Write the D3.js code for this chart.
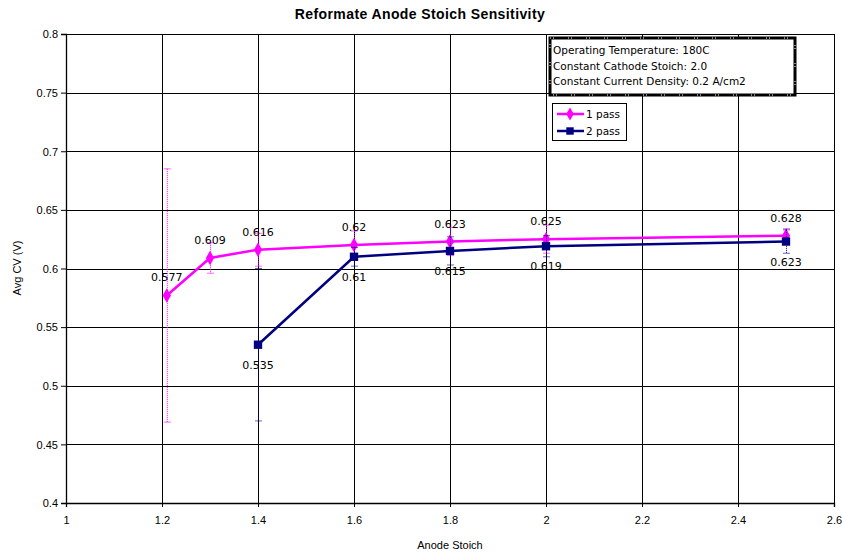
<!DOCTYPE html>
<html>
<head>
<meta charset="utf-8">
<script src="https://cdn.jsdelivr.net/npm/d3@7"></script>
<style>
  body { margin: 0; background: #fff; }
  text { font-family: "Liberation Sans", Arial, sans-serif; }
</style>
</head>
<body>
<div id="chart"></div>
<script>
// data
var stoich1 = [1.21, 1.3, 1.4, 1.6, 1.8, 2.0, 2.5];
var cv1 = [0.577, 0.609, 0.616, 0.62, 0.623, 0.625, 0.628];
var err1 = [0.108, 0.013, 0.014, 0.012, 0.012, 0.012, 0.006];

var stoich2 = [1.4, 1.6, 1.8, 2.0, 2.5];
var cv2 = [0.535, 0.61, 0.615, 0.619, 0.623];
var err2 = [0.065, 0.008, 0.012, 0.009, 0.010];

var seriesNames = ["1 pass", "2 pass"];
var xTicks = [1, 1.2, 1.4, 1.6, 1.8, 2, 2.2, 2.4, 2.6];
var yTicks = [0.4, 0.45, 0.5, 0.55, 0.6, 0.65, 0.7, 0.75, 0.8];
var noteLines = ["Operating Temperature: 180C", "Constant Cathode Stoich: 2.0", "Constant Current Density: 0.2 A/cm2"];

var svgWidth = 842;
var svgHeight = 553;
var chartMargin = { top: 34, right: 8, bottom: 50, left: 66 };
var chartWidth = svgWidth - chartMargin.left - chartMargin.right;
var chartHeight = svgHeight - chartMargin.top - chartMargin.bottom;

var pink = "#ff00ff";
var navy = "#000080";
var wideFont = "'DejaVu Sans', Verdana, sans-serif";

var svg = d3.select("#chart")
            .append("svg")
            .attr("width", svgWidth)
            .attr("height", svgHeight);

var chartGroup = svg.append("g")
                    .attr("transform", `translate(${chartMargin.left}, ${chartMargin.top})`);

var xScale = d3.scaleLinear().domain([1, 2.6]).range([0, chartWidth]);
var yScale = d3.scaleLinear().domain([0.4, 0.8]).range([chartHeight, 0]);

// grid
chartGroup.append("g")
          .selectAll("line")
          .data(yTicks)
          .enter().append("line")
          .attr("x1", 0).attr("x2", chartWidth)
          .attr("y1", d => Math.round(yScale(d)) + 0.5)
          .attr("y2", d => Math.round(yScale(d)) + 0.5)
          .attr("stroke", "#000").attr("stroke-width", 1);
chartGroup.append("g")
          .selectAll("line")
          .data(xTicks)
          .enter().append("line")
          .attr("y1", 0).attr("y2", chartHeight)
          .attr("x1", d => Math.round(xScale(d)) + 0.5)
          .attr("x2", d => Math.round(xScale(d)) + 0.5)
          .attr("stroke", "#000").attr("stroke-width", 1);

// axes
var yAxis = d3.axisLeft(yScale).tickValues(yTicks).tickSize(5).tickFormat(d3.format(""));
var xAxis = d3.axisBottom(xScale).tickValues(xTicks).tickSize(4).tickFormat(d3.format(""));

var yG = chartGroup.append("g").call(yAxis);
var xG = chartGroup.append("g")
                   .attr("transform", `translate(0, ${chartHeight})`)
                   .call(xAxis);
[yG, xG].forEach(function(g) {
  g.selectAll("path.domain").attr("stroke", "#000").attr("stroke-width", 1.3);
  g.selectAll(".tick line").attr("stroke", "#000");
  g.selectAll(".tick text").attr("fill", "#000").style("font-size", "11px")
   .style("font-family", "'Liberation Sans', Arial, sans-serif");
});
yG.selectAll(".tick text").attr("x", -8).attr("dy", "0.35em");
xG.selectAll(".tick text").attr("y", 13).attr("dy", "0.71em");

// axis titles
svg.append("text")
   .attr("x", chartMargin.left + chartWidth / 2)
   .attr("y", 549)
   .attr("text-anchor", "middle")
   .style("font-size", "11px")
   .text("Anode Stoich");
svg.append("text")
   .attr("transform", "translate(21, 268) rotate(-90)")
   .attr("text-anchor", "middle")
   .style("font-size", "11px")
   .text("Avg CV (V)");

// title
svg.append("text")
   .attr("x", 420)
   .attr("y", 19)
   .attr("text-anchor", "middle")
   .style("font-size", "14px")
   .style("font-weight", "bold")
   .style("letter-spacing", "0.4px")
   .text("Reformate Anode Stoich Sensitivity");

var series = [
  { name: seriesNames[0], xs: stoich1, ys: cv1, errs: err1, color: pink, marker: "diamond", above: true },
  { name: seriesNames[1], xs: stoich2, ys: cv2, errs: err2, color: navy, marker: "square", above: false }
];

var line = d3.line().x(d => xScale(d.x)).y(d => yScale(d.y));

series.forEach(function(s) {
  var pts = s.xs.map((x, i) => ({ x: x, y: s.ys[i], e: s.errs[i], i: i }));

  // error bars
  var eb = chartGroup.append("g");
  eb.selectAll("line.bar")
    .data(pts).enter().append("line")
    .attr("x1", d => xScale(d.x) + 0.5).attr("x2", d => xScale(d.x) + 0.5)
    .attr("y1", d => yScale(d.y + d.e)).attr("y2", d => yScale(d.y - d.e))
    .attr("stroke", s.color).attr("stroke-width", 1)
    .attr("stroke-dasharray", "1,1");
  [1, -1].forEach(function(sign) {
    eb.selectAll("line.cap" + sign)
      .data(pts).enter().append("line")
      .attr("x1", d => xScale(d.x) - 3).attr("x2", d => xScale(d.x) + 4)
      .attr("y1", d => yScale(d.y + sign * d.e)).attr("y2", d => yScale(d.y + sign * d.e))
      .attr("stroke", s.color).attr("stroke-width", 1).attr("opacity", 0.6);
  });

  chartGroup.append("path")
            .datum(pts)
            .attr("d", line)
            .attr("fill", "none")
            .attr("stroke", s.color)
            .attr("stroke-width", 2.5);

  var sym = s.marker === "diamond" ? d3.symbolDiamond : d3.symbolSquare;
  var size = s.marker === "diamond" ? 60 : 70;
  chartGroup.selectAll("path.m-" + s.marker)
            .data(pts).enter().append("path")
            .attr("d", d3.symbol().type(sym).size(size))
            .attr("transform", d => `translate(${xScale(d.x)}, ${yScale(d.y)})`)
            .attr("fill", s.color);

  chartGroup.selectAll("text.lbl-" + s.marker)
            .data(pts).enter().append("text")
            .attr("x", d => xScale(d.x))
            .attr("y", d => s.above ? yScale(d.y) - 14 : yScale(d.y) + 24)
            .attr("text-anchor", "middle")
            .style("font-size", "11px")
            .style("font-family", wideFont)
            .attr("fill", "#000")
            .text(d => d3.format("")(d.y));
});

// note box
var note = svg.append("g").attr("transform", "translate(550, 38)");
note.append("rect")
    .attr("width", 245).attr("height", 57)
    .attr("fill", "#fff")
    .attr("stroke", "#000").attr("stroke-width", 3);
note.append("rect")
    .attr("width", 245).attr("height", 57)
    .attr("fill", "none")
    .attr("stroke", "#fff").attr("stroke-width", 1)
    .attr("stroke-dasharray", "1,2,1,14");
note.selectAll("text")
    .data(noteLines).enter().append("text")
    .attr("x", 3)
    .attr("y", (d, i) => 16 + i * 15.5)
    .style("font-size", "10.5px")
    .style("font-family", wideFont)
    .text(d => d);

// legend
var legend = svg.append("g").attr("transform", "translate(552, 103)");
legend.append("rect")
      .attr("x", 0.5).attr("y", 0.5)
      .attr("width", 74).attr("height", 37)
      .attr("fill", "#fff").attr("stroke", "#000").attr("stroke-width", 1);
series.forEach(function(s, i) {
  var ly = 11 + i * 17;
  legend.append("line")
        .attr("x1", 5).attr("x2", 32)
        .attr("y1", ly).attr("y2", ly)
        .attr("stroke", s.color).attr("stroke-width", 2.5);
  legend.append("path")
        .attr("d", d3.symbol().type(s.marker === "diamond" ? d3.symbolDiamond : d3.symbolSquare).size(s.marker === "diamond" ? 50 : 55))
        .attr("transform", `translate(18, ${ly})`)
        .attr("fill", s.color);
  legend.append("text")
        .attr("x", 34).attr("y", ly + 4)
        .style("font-size", "10.5px")
        .style("font-family", wideFont)
        .text(s.name);
});
</script>
</body>
</html>
